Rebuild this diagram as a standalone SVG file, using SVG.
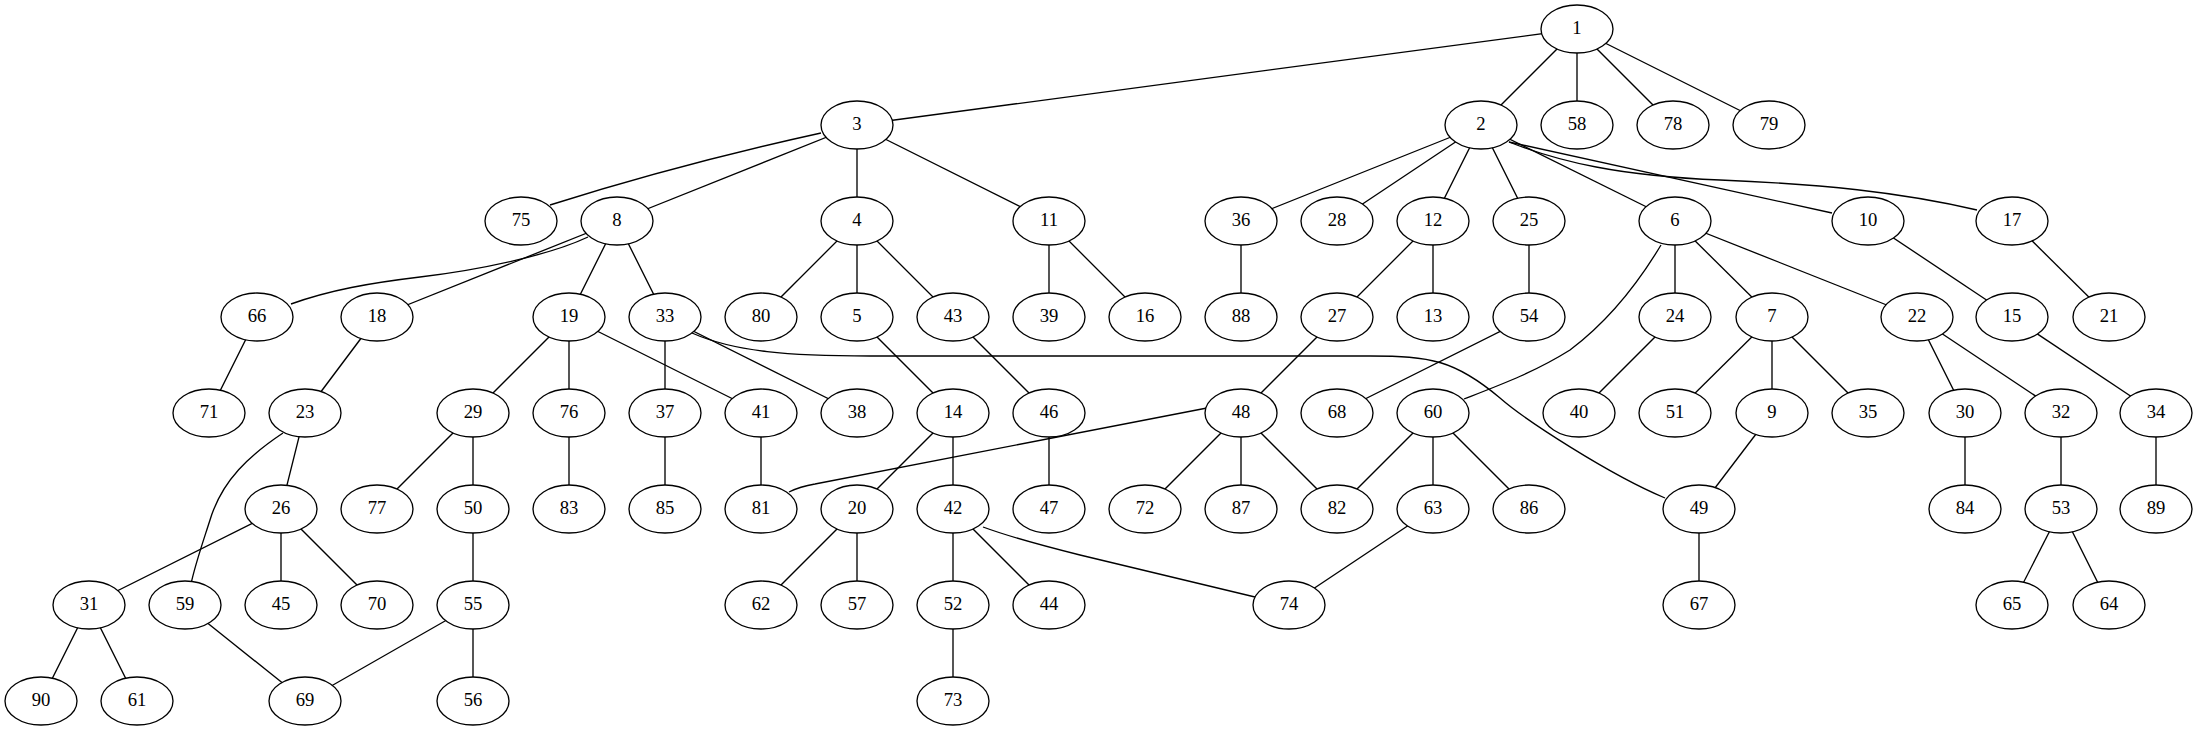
<svg xmlns="http://www.w3.org/2000/svg" width="2197" height="731" viewBox="0 0 2197 731">
<style>
.n ellipse{fill:#fff;stroke:#000;stroke-width:1.33}
.n text{font-family:"Liberation Serif","Times New Roman",serif;font-size:18.67px;text-anchor:middle;fill:#000}
#edges line,#edges path{fill:none;stroke:#000;stroke-width:1.33}
</style>
<rect width="2197" height="731" fill="#fff"/>
<g id="edges">
<line x1="1577" y1="29" x2="857" y2="125"/>
<line x1="1577" y1="29" x2="1481" y2="125"/>
<line x1="1577" y1="29" x2="1577" y2="125"/>
<line x1="1577" y1="29" x2="1673" y2="125"/>
<line x1="1577" y1="29" x2="1769" y2="125"/>
<path d="M821,133 Q680,164 550,205"/>
<line x1="857" y1="125" x2="617" y2="221"/>
<line x1="857" y1="125" x2="857" y2="221"/>
<line x1="857" y1="125" x2="1049" y2="221"/>
<line x1="1481" y1="125" x2="1241" y2="221"/>
<line x1="1481" y1="125" x2="1337" y2="221"/>
<line x1="1481" y1="125" x2="1433" y2="221"/>
<line x1="1481" y1="125" x2="1529" y2="221"/>
<line x1="1481" y1="125" x2="1675" y2="221"/>
<path d="M1509,142 L1832,213"/>
<path d="M1509,142 C1560,162 1620,176 1720,180 C1820,184 1900,192 1977,210"/>
<path d="M588,237 C550,255 480,270 420,277 C370,283 330,290 291,304"/>
<line x1="617" y1="221" x2="377" y2="317"/>
<line x1="617" y1="221" x2="569" y2="317"/>
<line x1="617" y1="221" x2="665" y2="317"/>
<line x1="857" y1="221" x2="761" y2="317"/>
<line x1="857" y1="221" x2="857" y2="317"/>
<line x1="857" y1="221" x2="953" y2="317"/>
<line x1="1049" y1="221" x2="1049" y2="317"/>
<line x1="1049" y1="221" x2="1145" y2="317"/>
<line x1="1241" y1="221" x2="1241" y2="317"/>
<line x1="1433" y1="221" x2="1337" y2="317"/>
<line x1="1433" y1="221" x2="1433" y2="317"/>
<line x1="1529" y1="221" x2="1529" y2="317"/>
<path d="M1661,245 C1640,280 1610,320 1570,350 C1535,372 1500,385 1464,399"/>
<line x1="1675" y1="221" x2="1675" y2="317"/>
<line x1="1675" y1="221" x2="1772" y2="317"/>
<line x1="1675" y1="221" x2="1917" y2="317"/>
<line x1="1868" y1="221" x2="2012" y2="317"/>
<line x1="2012" y1="221" x2="2109" y2="317"/>
<line x1="257" y1="317" x2="209" y2="413"/>
<line x1="377" y1="317" x2="305" y2="413"/>
<line x1="569" y1="317" x2="473" y2="413"/>
<line x1="569" y1="317" x2="569" y2="413"/>
<line x1="569" y1="317" x2="761" y2="413"/>
<line x1="665" y1="317" x2="665" y2="413"/>
<line x1="665" y1="317" x2="857" y2="413"/>
<path d="M692,333 C735,352 790,356 870,356 L1370,356 C1430,356 1455,360 1500,398 C1525,420 1610,475 1665,498"/>
<line x1="857" y1="317" x2="953" y2="413"/>
<line x1="953" y1="317" x2="1049" y2="413"/>
<line x1="1337" y1="317" x2="1241" y2="413"/>
<line x1="1529" y1="317" x2="1337" y2="413"/>
<line x1="1675" y1="317" x2="1579" y2="413"/>
<line x1="1772" y1="317" x2="1675" y2="413"/>
<line x1="1772" y1="317" x2="1772" y2="413"/>
<line x1="1772" y1="317" x2="1868" y2="413"/>
<line x1="1917" y1="317" x2="1965" y2="413"/>
<line x1="1917" y1="317" x2="2061" y2="413"/>
<line x1="2012" y1="317" x2="2156" y2="413"/>
<line x1="305" y1="413" x2="281" y2="509"/>
<path d="M283,433 C250,455 222,480 210,520 C202,545 195,565 191,584"/>
<line x1="473" y1="413" x2="377" y2="509"/>
<line x1="473" y1="413" x2="473" y2="509"/>
<line x1="569" y1="413" x2="569" y2="509"/>
<line x1="665" y1="413" x2="665" y2="509"/>
<line x1="761" y1="413" x2="761" y2="509"/>
<line x1="953" y1="413" x2="857" y2="509"/>
<line x1="953" y1="413" x2="953" y2="509"/>
<line x1="1049" y1="413" x2="1049" y2="509"/>
<path d="M1207,408 L815,484 C803,486 795,489 789,492"/>
<line x1="1241" y1="413" x2="1145" y2="509"/>
<line x1="1241" y1="413" x2="1241" y2="509"/>
<line x1="1241" y1="413" x2="1337" y2="509"/>
<line x1="1433" y1="413" x2="1337" y2="509"/>
<line x1="1433" y1="413" x2="1433" y2="509"/>
<line x1="1433" y1="413" x2="1529" y2="509"/>
<line x1="1772" y1="413" x2="1699" y2="509"/>
<line x1="1965" y1="413" x2="1965" y2="509"/>
<line x1="2061" y1="413" x2="2061" y2="509"/>
<line x1="2156" y1="413" x2="2156" y2="509"/>
<line x1="281" y1="509" x2="89" y2="605"/>
<line x1="281" y1="509" x2="281" y2="605"/>
<line x1="281" y1="509" x2="377" y2="605"/>
<line x1="473" y1="509" x2="473" y2="605"/>
<line x1="857" y1="509" x2="761" y2="605"/>
<line x1="857" y1="509" x2="857" y2="605"/>
<line x1="953" y1="509" x2="953" y2="605"/>
<line x1="953" y1="509" x2="1049" y2="605"/>
<path d="M983,527 C1010,537 1040,545 1080,555 L1255,597"/>
<line x1="1433" y1="509" x2="1289" y2="605"/>
<line x1="1699" y1="509" x2="1699" y2="605"/>
<line x1="2061" y1="509" x2="2012" y2="605"/>
<line x1="2061" y1="509" x2="2109" y2="605"/>
<line x1="89" y1="605" x2="41" y2="701"/>
<line x1="89" y1="605" x2="137" y2="701"/>
<line x1="185" y1="605" x2="305" y2="701"/>
<line x1="473" y1="605" x2="305" y2="701"/>
<line x1="473" y1="605" x2="473" y2="701"/>
<line x1="953" y1="605" x2="953" y2="701"/>
</g>
<g id="n1" class="n"><ellipse cx="1577" cy="29" rx="36" ry="24"/><text x="1577" y="34">1</text></g>
<g id="n3" class="n"><ellipse cx="857" cy="125" rx="36" ry="24"/><text x="857" y="130">3</text></g>
<g id="n2" class="n"><ellipse cx="1481" cy="125" rx="36" ry="24"/><text x="1481" y="130">2</text></g>
<g id="n58" class="n"><ellipse cx="1577" cy="125" rx="36" ry="24"/><text x="1577" y="130">58</text></g>
<g id="n78" class="n"><ellipse cx="1673" cy="125" rx="36" ry="24"/><text x="1673" y="130">78</text></g>
<g id="n79" class="n"><ellipse cx="1769" cy="125" rx="36" ry="24"/><text x="1769" y="130">79</text></g>
<g id="n75" class="n"><ellipse cx="521" cy="221" rx="36" ry="24"/><text x="521" y="226">75</text></g>
<g id="n8" class="n"><ellipse cx="617" cy="221" rx="36" ry="24"/><text x="617" y="226">8</text></g>
<g id="n4" class="n"><ellipse cx="857" cy="221" rx="36" ry="24"/><text x="857" y="226">4</text></g>
<g id="n11" class="n"><ellipse cx="1049" cy="221" rx="36" ry="24"/><text x="1049" y="226">11</text></g>
<g id="n36" class="n"><ellipse cx="1241" cy="221" rx="36" ry="24"/><text x="1241" y="226">36</text></g>
<g id="n28" class="n"><ellipse cx="1337" cy="221" rx="36" ry="24"/><text x="1337" y="226">28</text></g>
<g id="n12" class="n"><ellipse cx="1433" cy="221" rx="36" ry="24"/><text x="1433" y="226">12</text></g>
<g id="n25" class="n"><ellipse cx="1529" cy="221" rx="36" ry="24"/><text x="1529" y="226">25</text></g>
<g id="n6" class="n"><ellipse cx="1675" cy="221" rx="36" ry="24"/><text x="1675" y="226">6</text></g>
<g id="n10" class="n"><ellipse cx="1868" cy="221" rx="36" ry="24"/><text x="1868" y="226">10</text></g>
<g id="n17" class="n"><ellipse cx="2012" cy="221" rx="36" ry="24"/><text x="2012" y="226">17</text></g>
<g id="n66" class="n"><ellipse cx="257" cy="317" rx="36" ry="24"/><text x="257" y="322">66</text></g>
<g id="n18" class="n"><ellipse cx="377" cy="317" rx="36" ry="24"/><text x="377" y="322">18</text></g>
<g id="n19" class="n"><ellipse cx="569" cy="317" rx="36" ry="24"/><text x="569" y="322">19</text></g>
<g id="n33" class="n"><ellipse cx="665" cy="317" rx="36" ry="24"/><text x="665" y="322">33</text></g>
<g id="n80" class="n"><ellipse cx="761" cy="317" rx="36" ry="24"/><text x="761" y="322">80</text></g>
<g id="n5" class="n"><ellipse cx="857" cy="317" rx="36" ry="24"/><text x="857" y="322">5</text></g>
<g id="n43" class="n"><ellipse cx="953" cy="317" rx="36" ry="24"/><text x="953" y="322">43</text></g>
<g id="n39" class="n"><ellipse cx="1049" cy="317" rx="36" ry="24"/><text x="1049" y="322">39</text></g>
<g id="n16" class="n"><ellipse cx="1145" cy="317" rx="36" ry="24"/><text x="1145" y="322">16</text></g>
<g id="n88" class="n"><ellipse cx="1241" cy="317" rx="36" ry="24"/><text x="1241" y="322">88</text></g>
<g id="n27" class="n"><ellipse cx="1337" cy="317" rx="36" ry="24"/><text x="1337" y="322">27</text></g>
<g id="n13" class="n"><ellipse cx="1433" cy="317" rx="36" ry="24"/><text x="1433" y="322">13</text></g>
<g id="n54" class="n"><ellipse cx="1529" cy="317" rx="36" ry="24"/><text x="1529" y="322">54</text></g>
<g id="n24" class="n"><ellipse cx="1675" cy="317" rx="36" ry="24"/><text x="1675" y="322">24</text></g>
<g id="n7" class="n"><ellipse cx="1772" cy="317" rx="36" ry="24"/><text x="1772" y="322">7</text></g>
<g id="n22" class="n"><ellipse cx="1917" cy="317" rx="36" ry="24"/><text x="1917" y="322">22</text></g>
<g id="n15" class="n"><ellipse cx="2012" cy="317" rx="36" ry="24"/><text x="2012" y="322">15</text></g>
<g id="n21" class="n"><ellipse cx="2109" cy="317" rx="36" ry="24"/><text x="2109" y="322">21</text></g>
<g id="n71" class="n"><ellipse cx="209" cy="413" rx="36" ry="24"/><text x="209" y="418">71</text></g>
<g id="n23" class="n"><ellipse cx="305" cy="413" rx="36" ry="24"/><text x="305" y="418">23</text></g>
<g id="n29" class="n"><ellipse cx="473" cy="413" rx="36" ry="24"/><text x="473" y="418">29</text></g>
<g id="n76" class="n"><ellipse cx="569" cy="413" rx="36" ry="24"/><text x="569" y="418">76</text></g>
<g id="n37" class="n"><ellipse cx="665" cy="413" rx="36" ry="24"/><text x="665" y="418">37</text></g>
<g id="n41" class="n"><ellipse cx="761" cy="413" rx="36" ry="24"/><text x="761" y="418">41</text></g>
<g id="n38" class="n"><ellipse cx="857" cy="413" rx="36" ry="24"/><text x="857" y="418">38</text></g>
<g id="n14" class="n"><ellipse cx="953" cy="413" rx="36" ry="24"/><text x="953" y="418">14</text></g>
<g id="n46" class="n"><ellipse cx="1049" cy="413" rx="36" ry="24"/><text x="1049" y="418">46</text></g>
<g id="n48" class="n"><ellipse cx="1241" cy="413" rx="36" ry="24"/><text x="1241" y="418">48</text></g>
<g id="n68" class="n"><ellipse cx="1337" cy="413" rx="36" ry="24"/><text x="1337" y="418">68</text></g>
<g id="n60" class="n"><ellipse cx="1433" cy="413" rx="36" ry="24"/><text x="1433" y="418">60</text></g>
<g id="n40" class="n"><ellipse cx="1579" cy="413" rx="36" ry="24"/><text x="1579" y="418">40</text></g>
<g id="n51" class="n"><ellipse cx="1675" cy="413" rx="36" ry="24"/><text x="1675" y="418">51</text></g>
<g id="n9" class="n"><ellipse cx="1772" cy="413" rx="36" ry="24"/><text x="1772" y="418">9</text></g>
<g id="n35" class="n"><ellipse cx="1868" cy="413" rx="36" ry="24"/><text x="1868" y="418">35</text></g>
<g id="n30" class="n"><ellipse cx="1965" cy="413" rx="36" ry="24"/><text x="1965" y="418">30</text></g>
<g id="n32" class="n"><ellipse cx="2061" cy="413" rx="36" ry="24"/><text x="2061" y="418">32</text></g>
<g id="n34" class="n"><ellipse cx="2156" cy="413" rx="36" ry="24"/><text x="2156" y="418">34</text></g>
<g id="n26" class="n"><ellipse cx="281" cy="509" rx="36" ry="24"/><text x="281" y="514">26</text></g>
<g id="n77" class="n"><ellipse cx="377" cy="509" rx="36" ry="24"/><text x="377" y="514">77</text></g>
<g id="n50" class="n"><ellipse cx="473" cy="509" rx="36" ry="24"/><text x="473" y="514">50</text></g>
<g id="n83" class="n"><ellipse cx="569" cy="509" rx="36" ry="24"/><text x="569" y="514">83</text></g>
<g id="n85" class="n"><ellipse cx="665" cy="509" rx="36" ry="24"/><text x="665" y="514">85</text></g>
<g id="n81" class="n"><ellipse cx="761" cy="509" rx="36" ry="24"/><text x="761" y="514">81</text></g>
<g id="n20" class="n"><ellipse cx="857" cy="509" rx="36" ry="24"/><text x="857" y="514">20</text></g>
<g id="n42" class="n"><ellipse cx="953" cy="509" rx="36" ry="24"/><text x="953" y="514">42</text></g>
<g id="n47" class="n"><ellipse cx="1049" cy="509" rx="36" ry="24"/><text x="1049" y="514">47</text></g>
<g id="n72" class="n"><ellipse cx="1145" cy="509" rx="36" ry="24"/><text x="1145" y="514">72</text></g>
<g id="n87" class="n"><ellipse cx="1241" cy="509" rx="36" ry="24"/><text x="1241" y="514">87</text></g>
<g id="n82" class="n"><ellipse cx="1337" cy="509" rx="36" ry="24"/><text x="1337" y="514">82</text></g>
<g id="n63" class="n"><ellipse cx="1433" cy="509" rx="36" ry="24"/><text x="1433" y="514">63</text></g>
<g id="n86" class="n"><ellipse cx="1529" cy="509" rx="36" ry="24"/><text x="1529" y="514">86</text></g>
<g id="n49" class="n"><ellipse cx="1699" cy="509" rx="36" ry="24"/><text x="1699" y="514">49</text></g>
<g id="n84" class="n"><ellipse cx="1965" cy="509" rx="36" ry="24"/><text x="1965" y="514">84</text></g>
<g id="n53" class="n"><ellipse cx="2061" cy="509" rx="36" ry="24"/><text x="2061" y="514">53</text></g>
<g id="n89" class="n"><ellipse cx="2156" cy="509" rx="36" ry="24"/><text x="2156" y="514">89</text></g>
<g id="n31" class="n"><ellipse cx="89" cy="605" rx="36" ry="24"/><text x="89" y="610">31</text></g>
<g id="n59" class="n"><ellipse cx="185" cy="605" rx="36" ry="24"/><text x="185" y="610">59</text></g>
<g id="n45" class="n"><ellipse cx="281" cy="605" rx="36" ry="24"/><text x="281" y="610">45</text></g>
<g id="n70" class="n"><ellipse cx="377" cy="605" rx="36" ry="24"/><text x="377" y="610">70</text></g>
<g id="n55" class="n"><ellipse cx="473" cy="605" rx="36" ry="24"/><text x="473" y="610">55</text></g>
<g id="n62" class="n"><ellipse cx="761" cy="605" rx="36" ry="24"/><text x="761" y="610">62</text></g>
<g id="n57" class="n"><ellipse cx="857" cy="605" rx="36" ry="24"/><text x="857" y="610">57</text></g>
<g id="n52" class="n"><ellipse cx="953" cy="605" rx="36" ry="24"/><text x="953" y="610">52</text></g>
<g id="n44" class="n"><ellipse cx="1049" cy="605" rx="36" ry="24"/><text x="1049" y="610">44</text></g>
<g id="n74" class="n"><ellipse cx="1289" cy="605" rx="36" ry="24"/><text x="1289" y="610">74</text></g>
<g id="n67" class="n"><ellipse cx="1699" cy="605" rx="36" ry="24"/><text x="1699" y="610">67</text></g>
<g id="n65" class="n"><ellipse cx="2012" cy="605" rx="36" ry="24"/><text x="2012" y="610">65</text></g>
<g id="n64" class="n"><ellipse cx="2109" cy="605" rx="36" ry="24"/><text x="2109" y="610">64</text></g>
<g id="n90" class="n"><ellipse cx="41" cy="701" rx="36" ry="24"/><text x="41" y="706">90</text></g>
<g id="n61" class="n"><ellipse cx="137" cy="701" rx="36" ry="24"/><text x="137" y="706">61</text></g>
<g id="n69" class="n"><ellipse cx="305" cy="701" rx="36" ry="24"/><text x="305" y="706">69</text></g>
<g id="n56" class="n"><ellipse cx="473" cy="701" rx="36" ry="24"/><text x="473" y="706">56</text></g>
<g id="n73" class="n"><ellipse cx="953" cy="701" rx="36" ry="24"/><text x="953" y="706">73</text></g>
</svg>
